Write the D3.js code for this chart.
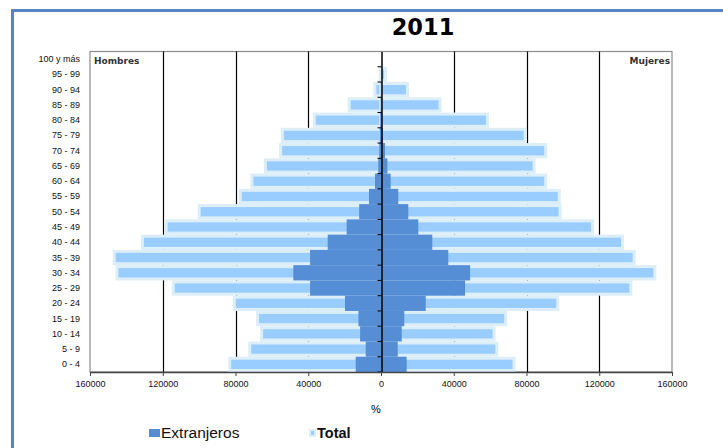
<!DOCTYPE html>
<html><head><meta charset="utf-8">
<script src="https://cdn.jsdelivr.net/npm/d3@7/dist/d3.min.js"></script>
<style>body{margin:0;background:#fff;}svg{display:block;}</style>
</head><body>
<svg id="c" width="723" height="448"></svg>
<script>
const categories = ["0 - 4","5 - 9","10 - 14","15 - 19","20 - 24","25 - 29","30 - 34","35 - 39","40 - 44","45 - 49","50 - 54","55 - 59","60 - 64","65 - 69","70 - 74","75 - 79","80 - 84","85 - 89","90 - 94","95 - 99","100 y más"];
const menTotal = [84000,73000,66500,68700,81500,115000,146000,147500,132000,119000,100800,78200,71800,64400,56000,55000,37500,18300,4200,1200,300];
const menExtr  = [13900,8400,11500,12400,19800,39000,48200,39000,29300,18900,12000,6600,3300,1500,1000,700,400,200,100,0,0];
const womenTotal = [74000,64500,63000,69400,98000,138200,151400,140000,133600,117100,99300,98800,91400,85000,91400,80100,59400,33300,15400,3300,500];
const womenExtr  = [14100,9200,11400,12800,24600,46200,49000,37000,28200,20500,15000,9500,5300,3500,2200,1100,600,400,200,0,0];
const tickValues = [-160000,-120000,-80000,-40000,0,40000,80000,120000,160000];
const title = "2011";

const svg = d3.select("#c");
const W = 723, H = 448;
const plot = {l:90, r:672, t:51.5, b:372};

// outer frame
svg.append("line").attr("x1",12).attr("x2",W).attr("y1",10.5).attr("y2",10.5).attr("stroke","#5585C5").attr("stroke-width",3);
svg.append("line").attr("x1",12.5).attr("x2",12.5).attr("y1",9).attr("y2",H).attr("stroke","#5585C5").attr("stroke-width",3);

svg.append("text").attr("x",423).attr("y",35).attr("text-anchor","middle")
  .attr("font-family","DejaVu Sans, Verdana, sans-serif").attr("font-weight","bold").attr("font-size",22.5).text(title);

const x = d3.scaleLinear().domain([-160000,160000]).range([plot.l, plot.r]);
const y = d3.scaleBand().domain(categories).range([plot.b, plot.t]).paddingInner(0).paddingOuter(0);

// plot border
svg.append("rect").attr("x",plot.l).attr("y",plot.t).attr("width",plot.r-plot.l).attr("height",plot.b-plot.t)
  .attr("fill","none").attr("stroke","#8c8c8c").attr("stroke-width",1.2);

// gridlines
svg.append("g").selectAll("line").data(tickValues.filter(v=>v!==0 && Math.abs(v)<160000)).join("line")
  .attr("x1",d=>Math.round(x(d))+0.5).attr("x2",d=>Math.round(x(d))+0.5)
  .attr("y1",plot.t).attr("y2",plot.b).attr("stroke","#000").attr("stroke-width",1.2);

const bh = y.bandwidth();
const rows = categories.map((c,i)=>({c, mt:menTotal[i], me:menExtr[i], wt:womenTotal[i], we:womenExtr[i]}));

const tot = svg.append("g");
tot.selectAll("rect.m").data(rows).join("rect").attr("class","m")
  .attr("x",d=>x(-d.mt)+1.5).attr("y",d=>y(d.c)+1.5).attr("width",d=>Math.max(0,x(0)-x(-d.mt)-1.5)).attr("height",bh-3)
  .attr("fill","#99CCFF").attr("stroke","#DCEEF8").attr("stroke-width",3);
tot.selectAll("rect.w").data(rows).join("rect").attr("class","w")
  .attr("x",x(0)).attr("y",d=>y(d.c)+1.5).attr("width",d=>Math.max(0,x(d.wt)-x(0)-1.5)).attr("height",bh-3)
  .attr("fill","#99CCFF").attr("stroke","#DCEEF8").attr("stroke-width",3);

const ext = svg.append("g");
ext.selectAll("rect.m").data(rows).join("rect").attr("class","m")
  .attr("x",d=>x(-d.me)).attr("y",d=>y(d.c)).attr("width",d=>x(0)-x(-d.me)).attr("height",bh)
  .attr("fill","#558ED5");
ext.selectAll("rect.w").data(rows).join("rect").attr("class","w")
  .attr("x",x(0)).attr("y",d=>y(d.c)).attr("width",d=>x(d.we)-x(0)).attr("height",bh)
  .attr("fill","#558ED5");

// center category axis
const yAxis = d3.axisLeft(y).tickSize(4).tickSizeOuter(0).tickFormat("");
const ya = svg.append("g").attr("transform",`translate(${Math.round(x(0))+0.5},0)`).call(yAxis);
ya.select(".domain").attr("stroke","#000").attr("stroke-width",1.5);
ya.selectAll(".tick line").attr("stroke","#000");
ya.selectAll(".tick").attr("transform",d=>`translate(0,${y(d)+bh})`);

// category labels
svg.append("g").selectAll("text").data(categories).join("text")
  .attr("x",80).attr("y",d=>y(d)+bh/2+3).attr("text-anchor","end")
  .attr("font-family","Liberation Sans, Arial, sans-serif").attr("font-size",9).attr("fill","#111").text(d=>d);

// bottom axis
const xAxis = d3.axisBottom(x).tickValues(tickValues).tickSize(4).tickSizeOuter(0).tickFormat(d=>Math.abs(d));
const xa = svg.append("g").attr("transform",`translate(0,${plot.b})`).call(xAxis);
xa.select(".domain").attr("stroke","#444").attr("stroke-width",1.5);
xa.selectAll(".tick line").attr("stroke","#444");
xa.selectAll("text").attr("font-family","Liberation Sans, Arial, sans-serif").attr("font-size",9).attr("fill","#111").attr("dy","0.85em");

svg.append("text").attr("x",376).attr("y",413).attr("text-anchor","middle")
  .attr("font-family","Liberation Sans, Arial, sans-serif").attr("font-size",11).text("%");

svg.append("text").attr("x",94).attr("y",64).attr("font-family","DejaVu Sans, Verdana, sans-serif").attr("font-weight","bold")
  .attr("font-size",9).attr("fill","#333").text("Hombres");
svg.append("text").attr("x",670).attr("y",64).attr("text-anchor","end").attr("font-family","DejaVu Sans, Verdana, sans-serif").attr("font-weight","bold")
  .attr("font-size",9).attr("fill","#333").text("Mujeres");

// legend
const lg = svg.append("g");
lg.append("rect").attr("x",149).attr("y",429).attr("width",11).attr("height",8).attr("fill","#558ED5");
lg.append("text").attr("x",161).attr("y",438).attr("font-family","Liberation Sans, Arial, sans-serif").attr("font-size",15.5).attr("fill","#111").text("Extranjeros");
lg.append("rect").attr("x",309).attr("y",429).attr("width",7).attr("height",8).attr("fill","#DCEEF8");
lg.append("rect").attr("x",311).attr("y",431).attr("width",3).attr("height",4).attr("fill","#99CCFF");
lg.append("text").attr("x",317).attr("y",438).attr("font-family","Liberation Sans, Arial, sans-serif").attr("font-weight","bold").attr("font-size",14.5).attr("fill","#111").text("Total");
</script>
</body></html>
